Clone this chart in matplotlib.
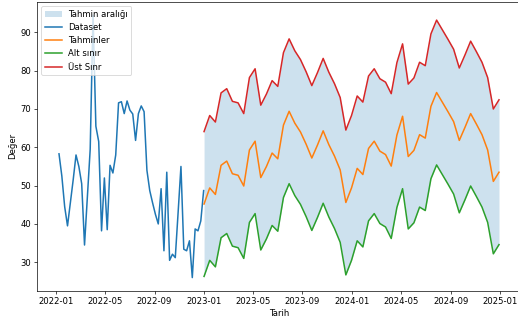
import matplotlib
matplotlib.use("Agg")
import matplotlib.pyplot as plt
import pandas as pd

# Weekly observed series (2022)
dataset_dates = pd.date_range("2022-01-08", periods=52, freq="7D")
dataset_values = [
    58.3, 52.5, 44.5, 39.5, 45.5, 51.5, 58.0, 55.0, 50.5, 34.5,
    47.0, 59.5, 94.5, 65.5, 61.5, 38.2, 52.0, 38.5, 55.3, 53.3,
    58.0, 71.6, 71.9, 68.8, 72.1, 69.7, 68.7, 61.8, 68.8, 70.8,
    69.3, 54.0, 48.7, 45.5, 42.5, 40.0, 49.2, 33.0, 53.5, 30.5,
    32.1, 31.2, 43.0, 55.0, 33.4, 33.0, 35.6, 26.0, 38.7, 38.2,
    40.8, 48.7,
]

# Two-weekly forecast horizon (2023-2024)
forecast_dates = pd.date_range("2023-01-01", periods=53, freq="14D")
forecast_values = [
    45.2, 49.4, 47.7, 55.3, 56.4, 53.1, 52.7, 49.9, 59.3, 61.6,
    52.1, 55.0, 58.5, 57.0, 65.8, 69.4, 66.3, 64.0, 60.8, 57.2,
    60.6, 64.3, 60.7, 57.7, 54.1, 45.6, 49.4, 54.5, 52.9, 59.7,
    61.6, 59.0, 58.1, 55.1, 63.2, 68.1, 57.6, 59.2, 63.3, 62.4,
    70.7, 74.3, 71.8, 69.3, 66.7, 61.8, 65.2, 68.8, 66.1, 63.3,
    59.3, 51.1, 53.5,
]
lower_bound = [
    26.3, 30.5, 28.8, 36.4, 37.5, 34.2, 33.8, 31.0, 40.4, 42.7,
    33.2, 36.1, 39.6, 38.1, 46.9, 50.5, 47.4, 45.1, 41.9, 38.3,
    41.7, 45.4, 41.8, 38.8, 35.2, 26.7, 30.5, 35.6, 34.0, 40.8,
    42.7, 40.1, 39.2, 36.2, 44.3, 49.2, 38.7, 40.3, 44.4, 43.5,
    51.8, 55.4, 52.9, 50.4, 47.8, 42.9, 46.3, 49.9, 47.2, 44.4,
    40.4, 32.2, 34.6,
]
upper_bound = [
    64.1, 68.3, 66.6, 74.2, 75.3, 72.0, 71.6, 68.8, 78.2, 80.5,
    71.0, 73.9, 77.4, 75.9, 84.7, 88.3, 85.2, 82.9, 79.7, 76.1,
    79.5, 83.2, 79.6, 76.6, 73.0, 64.5, 68.3, 73.4, 71.8, 78.6,
    80.5, 77.9, 77.0, 74.0, 82.1, 87.0, 76.5, 78.1, 82.2, 81.3,
    89.6, 93.2, 90.7, 88.2, 85.6, 80.7, 84.1, 87.7, 85.0, 82.2,
    78.2, 70.0, 72.4,
]

DPI = 61
LW = 1.8
fig = plt.figure(figsize=(518 / DPI, 326 / DPI), dpi=DPI)
ax = fig.add_axes([37 / 518, 1 - 290.7 / 326, 484 / 518, 288.7 / 326])

ax.fill_between(forecast_dates, lower_bound, upper_bound,
                color="tab:blue", alpha=0.22, linewidth=0, label="Tahmin aralığı")
ax.plot(dataset_dates, dataset_values, color="tab:blue", lw=LW, label="Dataset")
ax.plot(forecast_dates, forecast_values, color="tab:orange", lw=LW, label="Tahminler")
ax.plot(forecast_dates, lower_bound, color="tab:green", lw=LW, label="Alt sınır")
ax.plot(forecast_dates, upper_bound, color="tab:red", lw=LW, label="Üst Sınr")

ax.set_xlabel("Tarih")
ax.set_ylabel("Değer")
ax.legend(loc="upper left")

fig.savefig("out.png", dpi=DPI)
